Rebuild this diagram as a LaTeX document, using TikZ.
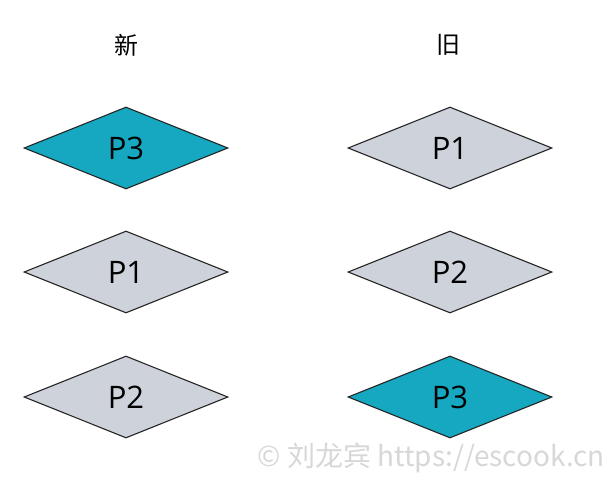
\documentclass[tikz,border=0pt]{standalone}
\usepackage{fontspec}
\setmainfont{Open Sans}
\newfontfamily\cjk{Noto Sans CJK SC}
\usetikzlibrary{shapes.geometric}
\definecolor{tealc}{RGB}{21,168,192}
\definecolor{grayc}{RGB}{206,210,218}
\definecolor{wmark}{RGB}{215,215,215}
\tikzset{
  pbox/.style={shape=diamond, draw=black!85, line width=1.1pt, inner sep=0pt,
    minimum width=204pt, minimum height=82pt, font=\fontsize{31}{33}\selectfont},
  hot/.style={pbox, fill=tealc},
  cold/.style={pbox, fill=grayc},
  title/.style={font=\cjk\fontsize{24}{26}\selectfont}
}
\begin{document}
\begin{tikzpicture}[x=1pt,y=1pt]
\useasboundingbox (0,0) rectangle (611,-480);
\node[title] (tnew) at (126,-45) {新};
\node[title] (told) at (448,-45) {旧};
\node[hot]  (n1) at (126,-148) {P3};
\node[cold] (n2) at (126,-272) {P1};
\node[cold] (n3) at (126,-397) {P2};
\node[cold] (o1) at (450,-148) {P1};
\node[cold] (o2) at (450,-272) {P2};
\node[hot]  (o3) at (450,-397) {P3};
\node[font=\cjk\fontsize{28}{30}\selectfont, text=wmark, anchor=east, inner sep=0pt] (wm) at (605,-458) {© 刘龙宾 https://escook.cn};
\end{tikzpicture}
\end{document}
